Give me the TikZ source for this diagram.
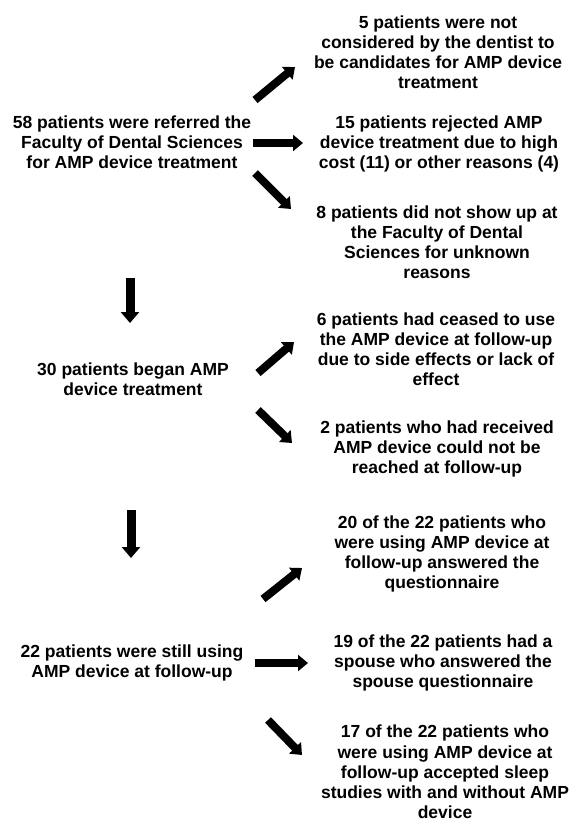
\documentclass[tikz,border=0pt]{standalone}
\usepackage{fontspec}
\setmainfont{Liberation Sans}
\usetikzlibrary{arrows.meta}
\tikzset{
  txt/.style={inner sep=0pt, align=center, font=\fontsize{17.5pt}{20pt}\bfseries\selectfont,
    execute at begin node=\strut, execute at end node=\strut},
  txtb/.style={txt, font=\fontsize{17.5pt}{20.3pt}\bfseries\selectfont},
  blk/.style={line width=8pt, -{Triangle[width=16pt,length=10pt]}},
  blkd/.style={line width=9pt, -{Triangle[width=18pt,length=11pt]}}
}
\begin{document}
\begin{tikzpicture}[x=1pt,y=-1pt]
\useasboundingbox (0,0) rectangle (571,824);
% texts
\node[txt] (r1) at (438,55) {5 patients were not\\considered by the dentist to\\be candidates for AMP device\\treatment};
\node[txt] (l1) at (132,145) {58 patients were referred the\\Faculty of Dental Sciences\\for AMP device treatment};
\node[txt] (r2) at (439,145) {15 patients rejected AMP\\device treatment due to high\\cost (11) or other reasons (4)};
\node[txt] (r3) at (437,245) {8 patients did not show up at\\the Faculty of Dental\\Sciences for unknown\\reasons};
\node[txt] (l2) at (133,382) {30 patients began AMP\\device treatment};
\node[txt] (r4) at (436,352) {6 patients had ceased to use\\the AMP device at follow-up\\due to side effects or lack of\\effect};
\node[txt] (r5) at (437,450) {2 patients who had received\\AMP device could not be\\reached at follow-up};
\node[txt] (r6) at (442,555) {20 of the 22 patients who\\were using AMP device at\\follow-up answered the\\questionnaire};
\node[txt] (l3) at (132,664) {22 patients were still using\\AMP device at follow-up};
\node[txtb] (r7) at (443,664) {19 of the 22 patients had a\\spouse who answered the\\spouse questionnaire};
\node[txtb] (r8) at (445,775) {17 of the 22 patients who\\were using AMP device at\\follow-up accepted sleep\\studies with and without AMP\\device};
% arrow end points
\coordinate (a1s) at (255,100); \coordinate (a1e) at (295,67);
\coordinate (a2s) at (253,143); \coordinate (a2e) at (303,143);
\coordinate (a3s) at (255,173); \coordinate (a3e) at (291,209);
\coordinate (d1s) at (130,278); \coordinate (d1e) at (130,323);
\coordinate (a4s) at (258,373); \coordinate (a4e) at (294,342);
\coordinate (a5s) at (258,410); \coordinate (a5e) at (292,443);
\coordinate (d2s) at (131,510); \coordinate (d2e) at (131,558);
\coordinate (a6s) at (263,599); \coordinate (a6e) at (302,568);
\coordinate (a7s) at (255,663); \coordinate (a7e) at (308,663);
\coordinate (a8s) at (268,720); \coordinate (a8e) at (302,755);
% arrows
\draw[blk] (a1s) -- (a1e);
\draw[blk] (a2s) -- (a2e);
\draw[blk] (a3s) -- (a3e);
\draw[blkd] (d1s) -- (d1e);
\draw[blk] (a4s) -- (a4e);
\draw[blk] (a5s) -- (a5e);
\draw[blkd] (d2s) -- (d2e);
\draw[blk] (a6s) -- (a6e);
\draw[blk] (a7s) -- (a7e);
\draw[blk] (a8s) -- (a8e);
\end{tikzpicture}
\end{document}
